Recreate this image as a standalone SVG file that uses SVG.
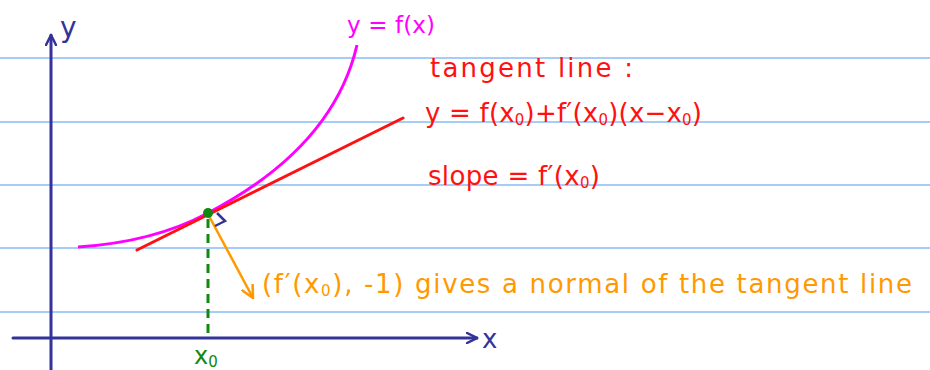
<svg xmlns="http://www.w3.org/2000/svg" width="930" height="370" viewBox="0 0 930 370">
<defs>
<style>
.rule{stroke:#a6cdf7;stroke-width:2}
.axis{stroke:#333399;stroke-width:3;fill:none;stroke-linecap:round;stroke-linejoin:round}
.t{font-family:"DejaVu Sans","Liberation Sans",sans-serif}
.red{fill:#ff1111}
.org{fill:#ff9900}
.sub{font-size:15px}
</style>
<marker id="ar" viewBox="0 0 12 12" refX="11" refY="6" markerWidth="12" markerHeight="12" markerUnits="userSpaceOnUse" orient="auto">
<path d="M1,1 L11,6 L1,11" fill="none" stroke="#333399" stroke-width="2.5" stroke-linecap="round"/>
</marker>
<marker id="ao" viewBox="0 0 12 12" refX="11" refY="6" markerWidth="14" markerHeight="14" markerUnits="userSpaceOnUse" orient="auto">
<path d="M1,1 L11,6 L1,11" fill="none" stroke="#ff9900" stroke-width="2.2" stroke-linecap="round"/>
</marker>
</defs>
<rect width="930" height="370" fill="#ffffff"/>
<g id="rules">
<line class="rule" x1="0" y1="58" x2="930" y2="58"/>
<line class="rule" x1="0" y1="122" x2="930" y2="122"/>
<line class="rule" x1="0" y1="185" x2="930" y2="185"/>
<line class="rule" x1="0" y1="248" x2="930" y2="248"/>
<line class="rule" x1="0" y1="312" x2="930" y2="312"/>
</g>
<g id="axes">
<line class="axis" x1="51" y1="370" x2="51" y2="35" marker-end="url(#ar)"/>
<line class="axis" x1="13" y1="338" x2="477" y2="338" marker-end="url(#ar)"/>
<text class="t" x="60" y="37" font-size="28" fill="#333399">y</text>
<text class="t" x="482" y="348" font-size="26" fill="#333399">x</text>
</g>
<g id="connectors">
<path id="curve" d="M78,247 C140,243 180,228 208,213 C250,191 335,140 357,45" fill="none" stroke="#ff00ff" stroke-width="3"/>
<line id="tangent" x1="137" y1="250" x2="403" y2="118" stroke="#ff1111" stroke-width="3" stroke-linecap="round"/>
<line id="drop" x1="208" y1="219" x2="208" y2="336" stroke="#118811" stroke-width="3" stroke-dasharray="9,6"/>
<line id="normal" x1="209" y1="216" x2="253" y2="298" stroke="#ff9900" stroke-width="2.5" marker-end="url(#ao)"/>
<path id="rightangle" d="M217,213 L225,221 L215,226" fill="none" stroke="#333399" stroke-width="2.5"/>
</g>
<g id="point">
<circle cx="208" cy="213" r="5" fill="#118811"/>
<text class="t" x="194" y="364" font-size="24" fill="#118811">x<tspan class="sub" dy="3">0</tspan></text>
</g>
<g id="curve-label">
<text class="t" x="347" y="33" font-size="23" fill="#ff00ff" textLength="88" lengthAdjust="spacing">y = f(x)</text>
</g>
<g id="tangent-label">
<text class="t red" x="430" y="77" font-size="26" textLength="203" lengthAdjust="spacing">tangent line :</text>
<text class="t red" x="425" y="122" font-size="26" textLength="277" lengthAdjust="spacing">y = f(x<tspan class="sub" dy="3">0</tspan><tspan dy="-3">)+f′(x</tspan><tspan class="sub" dy="3">0</tspan><tspan dy="-3">)(x−x</tspan><tspan class="sub" dy="3">0</tspan><tspan dy="-3">)</tspan></text>
<text class="t red" x="428" y="185" font-size="26" textLength="172" lengthAdjust="spacing">slope = f′(x<tspan class="sub" dy="3">0</tspan><tspan dy="-3">)</tspan></text>
</g>
<g id="normal-label">
<text class="t org" x="262" y="293" font-size="26" textLength="650" lengthAdjust="spacing">(f′(x<tspan class="sub" dy="3">0</tspan><tspan dy="-3">), -1)  gives a normal of the tangent line</tspan></text>
</g>
</svg>
